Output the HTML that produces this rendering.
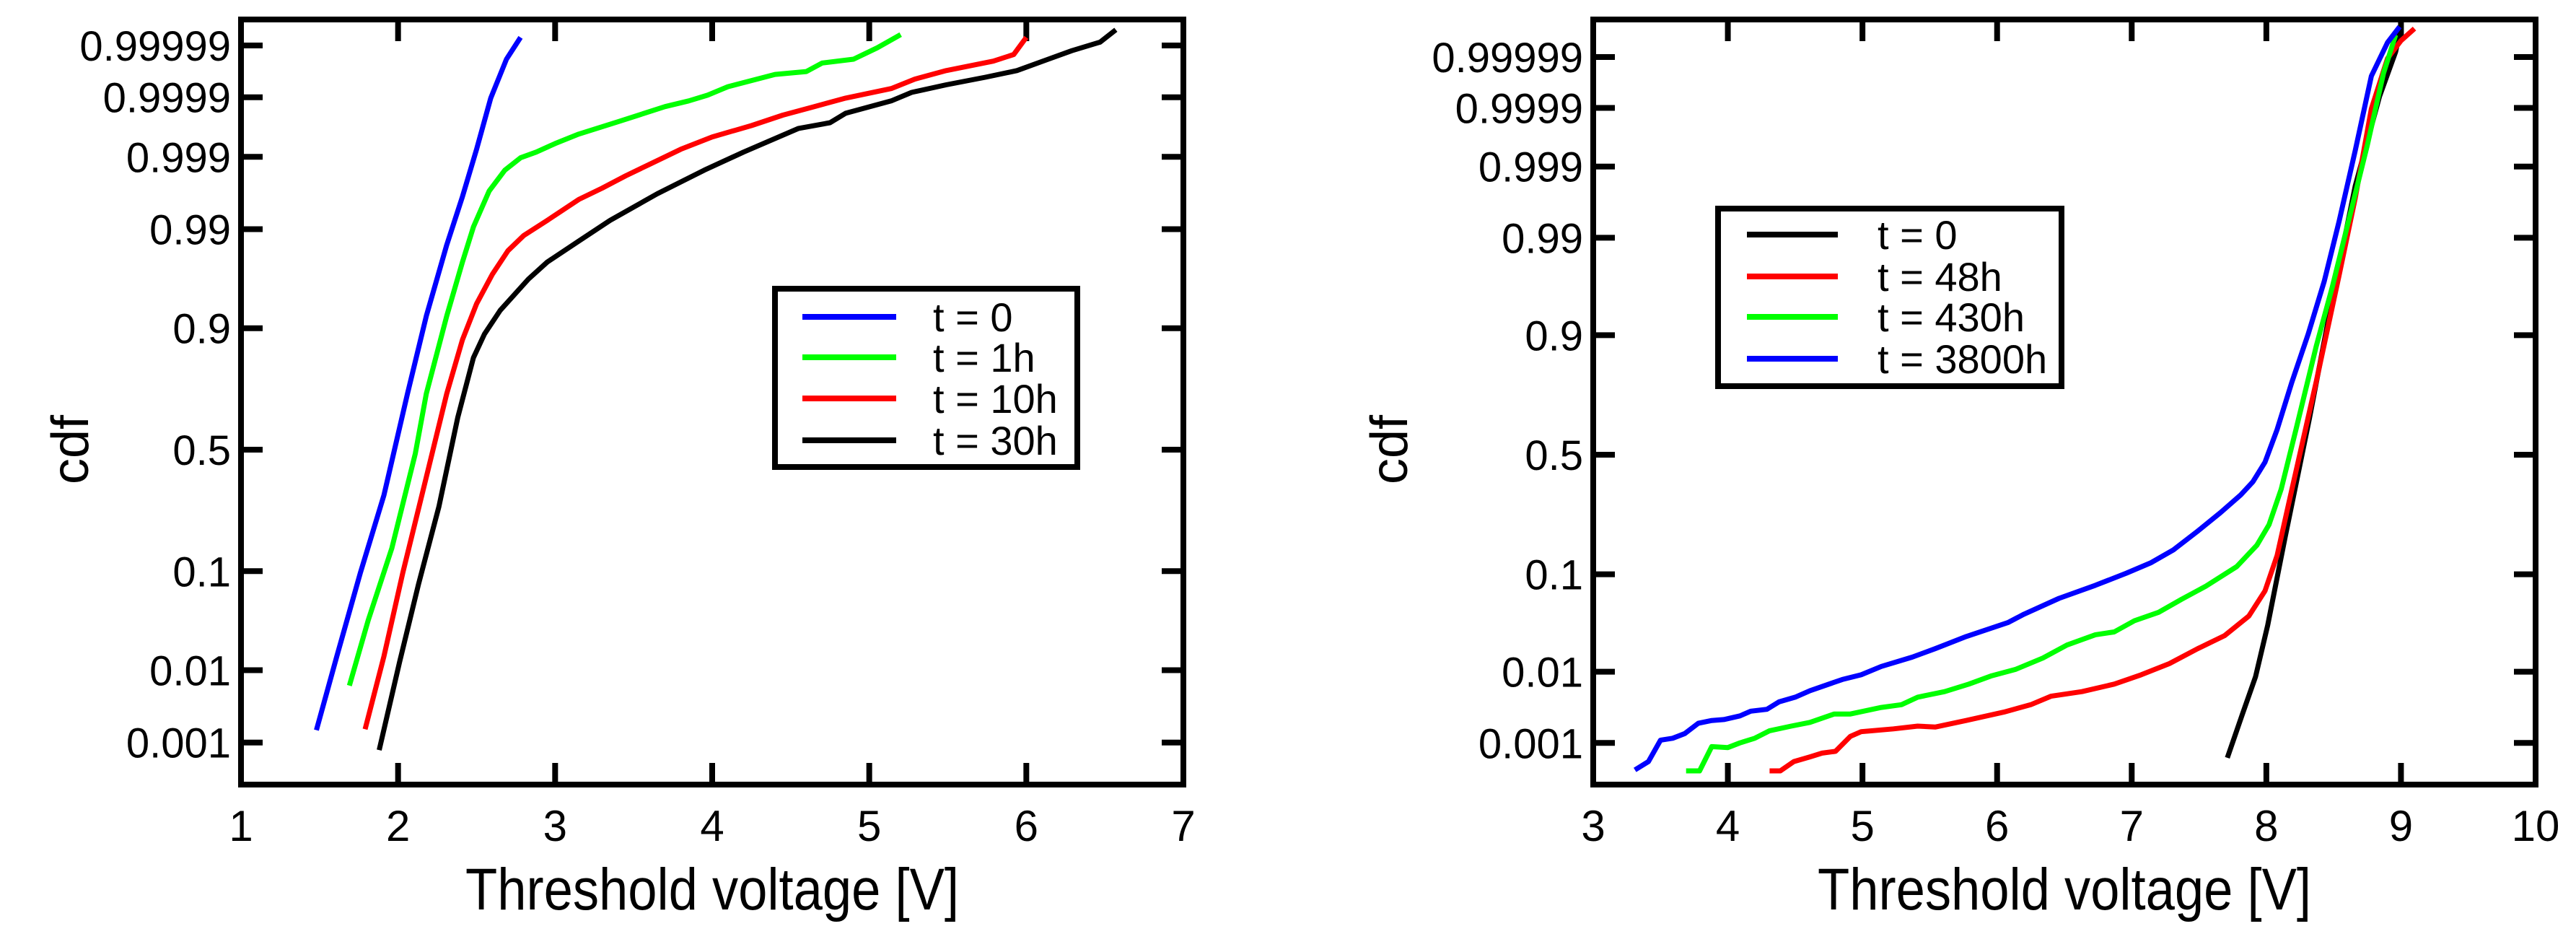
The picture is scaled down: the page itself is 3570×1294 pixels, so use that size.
<!DOCTYPE html>
<html><head><meta charset="utf-8"><style>
html,body{margin:0;padding:0;background:#fff;}
svg{display:block;}
text{font-family:"Liberation Sans",sans-serif;fill:#000;}
</style></head><body>
<svg id="fig" width="3570" height="1294" viewBox="0 0 3570 1294" xmlns="http://www.w3.org/2000/svg"></svg>
<script>
// ---- data: left chart (V, probit z) ----
const leftXTicks=[1,2,3,4,5,6,7];
const rightXTicks=[3,4,5,6,7,8,9,10];
const yTickLabels=["0.001","0.01","0.1","0.5","0.9","0.99","0.999","0.9999","0.99999"];
const leftNames=["t = 0","t = 1h","t = 10h","t = 30h"];
const leftColors=["#0000ff","#00ff00","#ff0000","#000000"];
const leftBlueV=[1.48,1.61,1.76,1.91,2.06,2.18,2.31,2.41,2.50,2.59,2.69,2.78];
const leftBlueZ=[-2.96,-2.18,-1.30,-0.48,0.59,1.41,2.16,2.67,3.17,3.71,4.12,4.35];
const leftGreenV=[1.69,1.81,1.96,2.11,2.18,2.31,2.41,2.48,2.58,2.68,2.78,2.88,3.00,3.15,3.40,3.70,3.85,3.97,4.10,4.40,4.60,4.70,4.90,5.05,5.20];
const leftGreenZ=[-2.49,-1.80,-1.04,-0.04,0.59,1.41,1.98,2.35,2.73,2.95,3.08,3.14,3.23,3.33,3.46,3.62,3.68,3.74,3.83,3.96,3.99,4.08,4.12,4.24,4.38];
const leftRedV=[1.79,1.91,2.03,2.18,2.31,2.41,2.50,2.60,2.70,2.80,2.95,3.15,3.30,3.45,3.60,3.80,4.00,4.25,4.45,4.65,4.85,5.14,5.29,5.49,5.79,5.92,6.00];
const leftRedZ=[-2.95,-2.18,-1.30,-0.29,0.59,1.16,1.54,1.85,2.10,2.26,2.42,2.64,2.76,2.89,3.01,3.17,3.30,3.42,3.53,3.62,3.71,3.81,3.91,4.00,4.10,4.17,4.35];
const leftBlackV=[1.88,2.01,2.13,2.26,2.38,2.48,2.55,2.65,2.83,2.95,3.15,3.35,3.65,3.95,4.20,4.55,4.75,4.85,5.14,5.27,5.49,5.74,5.94,6.14,6.29,6.47,6.57];
const leftBlackZ=[-3.17,-2.24,-1.42,-0.60,0.34,0.97,1.22,1.47,1.80,1.98,2.20,2.42,2.70,2.95,3.14,3.39,3.45,3.55,3.68,3.77,3.85,3.93,4.00,4.12,4.21,4.30,4.43];
// ---- data: right chart ----
const rightNames=["t = 0","t = 48h","t = 430h","t = 3800h"];
const rightColors=["#000000","#ff0000","#00ff00","#0000ff"];
const rightBlueV=[3.31,3.41,3.50,3.59,3.68,3.78,3.88,3.97,4.09,4.17,4.29,4.38,4.50,4.61,4.85,4.99,5.14,5.37,5.54,5.77,6.08,6.20,6.46,6.73,6.96,7.14,7.31,7.49,7.66,7.81,7.90,7.99,8.08,8.19,8.31,8.43,8.54,8.66,8.78,8.90,8.99];
const rightBlueZ=[-3.38,-3.29,-3.06,-3.04,-2.99,-2.88,-2.85,-2.84,-2.80,-2.75,-2.73,-2.65,-2.60,-2.53,-2.41,-2.36,-2.27,-2.17,-2.08,-1.95,-1.80,-1.71,-1.54,-1.40,-1.27,-1.16,-1.02,-0.82,-0.62,-0.43,-0.29,-0.08,0.27,0.78,1.29,1.86,2.50,3.26,4.06,4.42,4.59];
const rightGreenV=[3.69,3.79,3.88,4.00,4.09,4.20,4.31,4.47,4.61,4.79,4.91,5.14,5.29,5.41,5.61,5.79,5.96,6.14,6.34,6.52,6.73,6.87,7.02,7.20,7.37,7.55,7.78,7.93,8.02,8.11,8.22,8.37,8.49,8.63,8.75,8.87,8.96];
const rightGreenZ=[-3.39,-3.39,-3.13,-3.14,-3.09,-3.04,-2.96,-2.91,-2.87,-2.78,-2.78,-2.71,-2.68,-2.60,-2.54,-2.46,-2.37,-2.30,-2.18,-2.04,-1.93,-1.90,-1.78,-1.69,-1.55,-1.41,-1.20,-0.97,-0.75,-0.37,0.27,1.16,1.80,2.62,3.32,4.09,4.50];
const rightRedV=[4.31,4.39,4.49,4.61,4.70,4.80,4.91,4.99,5.23,5.41,5.54,5.77,6.05,6.25,6.40,6.63,6.87,7.07,7.28,7.49,7.69,7.87,7.99,8.08,8.19,8.37,8.54,8.66,8.78,8.90,9.00,9.10];
const rightRedZ=[-3.39,-3.39,-3.29,-3.24,-3.20,-3.18,-3.02,-2.97,-2.94,-2.91,-2.92,-2.85,-2.76,-2.68,-2.59,-2.54,-2.46,-2.36,-2.24,-2.08,-1.94,-1.73,-1.46,-1.08,-0.37,0.78,1.92,2.75,3.71,4.25,4.44,4.57];
const rightBlackV=[7.71,7.82,7.92,8.01,8.14,8.32,8.49,8.66,8.84,8.96,9.00];
const rightBlackZ=[-3.25,-2.79,-2.38,-1.83,-0.88,0.39,1.67,2.88,3.84,4.32,4.59];

const NS="http://www.w3.org/2000/svg";
const svg=document.getElementById('fig');
function mk(tag,attrs,parent){const e=document.createElementNS(NS,tag);for(const k in attrs)e.setAttribute(k,attrs[k]);(parent||svg).appendChild(e);return e;}
function invnorm(p){
  const a=[-39.69683028665376,220.9460984245205,-275.9285104469687,138.357751867269,-30.66479806614716,2.506628277459239];
  const b=[-54.47609879822406,161.5858368580409,-155.6989798598866,66.80131188771972,-13.28068155288572];
  const c=[-0.007784894002430293,-0.3223964580411365,-2.400758277161838,-2.549732539343734,4.374664141464968,2.938163982698783];
  const d=[0.007784695709041462,0.3224671290700398,2.445134137142996,3.754408661907416];
  const pl=0.02425;let q,r;
  if(p<pl){q=Math.sqrt(-2*Math.log(p));return (((((c[0]*q+c[1])*q+c[2])*q+c[3])*q+c[4])*q+c[5])/((((d[0]*q+d[1])*q+d[2])*q+d[3])*q+1);}
  if(p>1-pl){q=Math.sqrt(-2*Math.log(1-p));return -(((((c[0]*q+c[1])*q+c[2])*q+c[3])*q+c[4])*q+c[5])/((((d[0]*q+d[1])*q+d[2])*q+d[3])*q+1);}
  q=p-0.5;r=q*q;return (((((a[0]*r+a[1])*r+a[2])*r+a[3])*r+a[4])*r+a[5])*q/(((((b[0]*r+b[1])*r+b[2])*r+b[3])*r+b[4])*r+1);
}
function chart(cfg){
  const g=mk('g',{});
  
  
  const xs=v=>cfg.x0+(v-cfg.xmin)*(cfg.x1-cfg.x0)/(cfg.xmax-cfg.xmin);
  const ys=z=>cfg.yc-z*cfg.yu;
  const T=30;
  cfg.xticks.forEach(v=>{
    const x=xs(v);
    const t1=mk('line',{x1:x,y1:cfg.y1,x2:x,y2:cfg.y1-T,stroke:'#000','stroke-width':8},g);
    
    
    mk('line',{x1:x,y1:cfg.y0,x2:x,y2:cfg.y0+T,stroke:'#000','stroke-width':8},g);
    const lb=mk('text',{x:x,y:cfg.y1+78,'font-size':60,'text-anchor':'middle'},g);
    lb.textContent=v;
    
    
  });
  yTickLabels.forEach(s=>{
    const y=ys(invnorm(parseFloat(s)));
    const t1=mk('line',{x1:cfg.x0,y1:y,x2:cfg.x0+T,y2:y,stroke:'#000','stroke-width':8},g);
    
    
    mk('line',{x1:cfg.x1,y1:y,x2:cfg.x1-T,y2:y,stroke:'#000','stroke-width':8},g);
    const lb=mk('text',{x:cfg.x0-14,y:y+21,'font-size':58,'text-anchor':'end'},g);
    lb.textContent=s;
    
    
  });
  cfg.series.forEach((s,i)=>{
    const pts=s.v.map((v,k)=>xs(v).toFixed(1)+','+ys(s.z[k]).toFixed(1)).join(' ');
    const pl=mk('polyline',{points:pts,fill:'none',stroke:s.color,'stroke-width':7,'stroke-linejoin':'round'},g);
    
    
  });
  const fr=mk('rect',{x:cfg.x0,y:cfg.y0,width:cfg.x1-cfg.x0,height:cfg.y1-cfg.y0,fill:'none',stroke:'#000','stroke-width':8},g);
  
  
  const xt=mk('text',{x:(cfg.x0+cfg.x1)/2,y:1260,'font-size':82,'text-anchor':'middle',textLength:684,lengthAdjust:'spacingAndGlyphs'},g);
  xt.textContent='Threshold voltage [V]';
  
  
  const yt=mk('text',{x:0,y:0,'font-size':72,'text-anchor':'middle',transform:'translate('+cfg.ytx+',623) rotate(-90)'},g);
  yt.textContent='cdf';
  
  
  const L=cfg.legend;
  const lg=mk('g',{},g);
  
  
  mk('rect',{x:L.x,y:L.y,width:L.w,height:L.h,fill:'#fff',stroke:'#000','stroke-width':8},lg);
  cfg.series.forEach((s,i)=>{
    const y=L.rows[i];
    const e=mk('g',{},lg);
    
    
    mk('line',{x1:L.lx0,y1:y,x2:L.lx1,y2:y,stroke:s.color,'stroke-width':8},e);
    const t=mk('text',{x:L.tx,y:y+20,'font-size':56},e);
    t.textContent=s.label;
  });
}
chart({name:'left-chart',x0:334,x1:1640,y0:27,y1:1087,xmin:1,xmax:7,yc:623,yu:131.3,xticks:leftXTicks,ytx:122,
  series:[
    {key:'t0',label:leftNames[0],color:leftColors[0],v:leftBlueV,z:leftBlueZ},
    {key:'t1h',label:leftNames[1],color:leftColors[1],v:leftGreenV,z:leftGreenZ},
    {key:'t10h',label:leftNames[2],color:leftColors[2],v:leftRedV,z:leftRedZ},
    {key:'t30h',label:leftNames[3],color:leftColors[3],v:leftBlackV,z:leftBlackZ}],
  legend:{x:1074,y:400,w:419,h:247,lx0:1112,lx1:1242,tx:1293,rows:[439,495,552,610]}});
chart({name:'right-chart',x0:2208,x1:3514,y0:27,y1:1087,xmin:3,xmax:10,yc:630,yu:129.2,xticks:rightXTicks,ytx:1950,
  series:[
    {key:'t0',label:rightNames[0],color:rightColors[0],v:rightBlackV,z:rightBlackZ},
    {key:'t48h',label:rightNames[1],color:rightColors[1],v:rightRedV,z:rightRedZ},
    {key:'t430h',label:rightNames[2],color:rightColors[2],v:rightGreenV,z:rightGreenZ},
    {key:'t3800h',label:rightNames[3],color:rightColors[3],v:rightBlueV,z:rightBlueZ}],
  legend:{x:2381,y:289,w:476,h:246,lx0:2421,lx1:2547,tx:2602,rows:[325,383,439,497]}});
</script>
</body></html>
